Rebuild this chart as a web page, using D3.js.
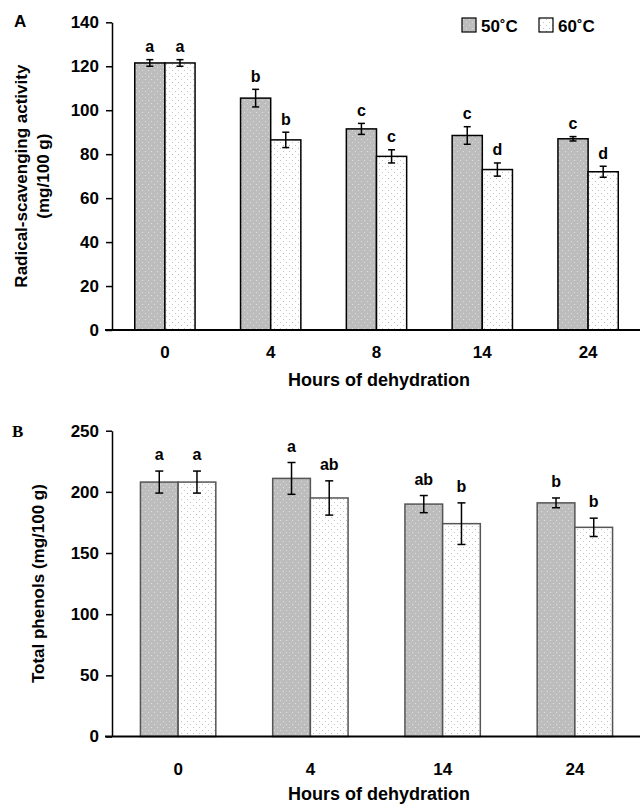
<!DOCTYPE html>
<html>
<head>
<meta charset="utf-8">
<script src="https://cdn.jsdelivr.net/npm/d3@7"></script>
<style>
  body { margin: 0; background: #fff; }
  text { font-family: "Liberation Sans", Arial, sans-serif; font-weight: bold; fill: #000; }
</style>
</head>
<body>
<script>
// panel A data: radical-scavenging activity
var hoursA = ["0", "4", "8", "14", "24"];
var rsa50 = [121.5, 105.5, 91.5, 88.5, 87];
var rsa50Err = [1.5, 4, 2.5, 4, 1];
var rsa60 = [121.5, 86.5, 79, 73, 72];
var rsa60Err = [1.5, 3.5, 3, 3, 2.5];
var rsa50Letters = ["a", "b", "c", "c", "c"];
var rsa60Letters = ["a", "b", "c", "d", "d"];
var ticksA = [0, 20, 40, 60, 80, 100, 120, 140];

// panel B data: total phenols
var hoursB = ["0", "4", "14", "24"];
var phen50 = [208, 211, 190, 191];
var phen50Err = [9, 13, 7, 4];
var phen60 = [208, 195, 174, 171];
var phen60Err = [9, 14, 17, 7.5];
var phen50Letters = ["a", "a", "ab", "b"];
var phen60Letters = ["a", "ab", "b", "b"];
var ticksB = [0, 50, 100, 150, 200, 250];

var series = ["50˚C", "60˚C"];

var svg = d3.select("body").append("svg")
  .attr("width", 640)
  .attr("height", 805);

// dotted fills
var defs = svg.append("defs");
function dotPattern(id, bg, dot) {
  var p = defs.append("pattern")
    .attr("id", id)
    .attr("patternUnits", "userSpaceOnUse")
    .attr("width", 6)
    .attr("height", 6);
  p.append("rect").attr("width", 6).attr("height", 6).attr("fill", bg);
  p.append("rect").attr("x", 1).attr("y", 1).attr("width", 1).attr("height", 1).attr("fill", dot);
  p.append("rect").attr("x", 4).attr("y", 4).attr("width", 1).attr("height", 1).attr("fill", dot);
}
dotPattern("gray-dots", "#bdbdbd", "#dedede");
dotPattern("white-dots", "#ffffff", "#c4c4c4");
var fills = ["url(#gray-dots)", "url(#white-dots)"];

function drawPanel(opt) {
  var g = svg.append("g");

  var x0 = d3.scaleBand()
    .domain(opt.cats)
    .range([112, 641])
    .paddingInner(0.43)
    .paddingOuter(0.215);

  var x1 = d3.scaleBand()
    .domain(series)
    .range([0, x0.bandwidth()]);

  var y = d3.scaleLinear()
    .domain([0, opt.max])
    .range([opt.bottom, opt.top]);

  var rows = opt.cats.map(function(c, i) {
    return [
      { cat: c, s: series[0], v: opt.v50[i], e: opt.e50[i], l: opt.l50[i], k: 0 },
      { cat: c, s: series[1], v: opt.v60[i], e: opt.e60[i], l: opt.l60[i], k: 1 }
    ];
  });
  var flat = [].concat.apply([], rows);

  // bars
  g.selectAll("rect.bar")
    .data(flat)
    .enter().append("rect")
    .attr("class", "bar")
    .attr("x", function(d) { return x0(d.cat) + x1(d.s); })
    .attr("y", function(d) { return y(d.v); })
    .attr("width", x1.bandwidth())
    .attr("height", function(d) { return y(0) - y(d.v); })
    .attr("fill", function(d) { return fills[d.k]; })
    .attr("stroke", opt.barStroke)
    .attr("stroke-width", 1.5);

  // error bars
  var eb = g.selectAll("g.err")
    .data(flat)
    .enter().append("g")
    .attr("class", "err")
    .attr("stroke", "#000")
    .attr("stroke-width", 1.5);
  eb.append("line")
    .attr("x1", function(d) { return x0(d.cat) + x1(d.s) + x1.bandwidth() / 2; })
    .attr("x2", function(d) { return x0(d.cat) + x1(d.s) + x1.bandwidth() / 2; })
    .attr("y1", function(d) { return y(d.v + d.e); })
    .attr("y2", function(d) { return y(d.v - d.e); });
  [1, -1].forEach(function(sign) {
    eb.append("line")
      .attr("x1", function(d) { return x0(d.cat) + x1(d.s) + x1.bandwidth() / 2 - opt.cap; })
      .attr("x2", function(d) { return x0(d.cat) + x1(d.s) + x1.bandwidth() / 2 + opt.cap; })
      .attr("y1", function(d) { return y(d.v + sign * d.e); })
      .attr("y2", function(d) { return y(d.v + sign * d.e); });
  });

  // significance letters
  g.selectAll("text.sig")
    .data(flat)
    .enter().append("text")
    .attr("class", "sig")
    .attr("x", function(d) { return x0(d.cat) + x1(d.s) + x1.bandwidth() / 2; })
    .attr("y", function(d) { return y(d.v + d.e) - opt.letterGap; })
    .attr("text-anchor", "middle")
    .style("font-size", "16px")
    .text(function(d) { return d.l; });

  // y axis
  var yAxis = g.append("g")
    .attr("transform", "translate(112,0)")
    .call(d3.axisLeft(y).tickValues(opt.ticks).tickSize(6).tickPadding(7).tickSizeOuter(0));
  yAxis.select(".domain").attr("stroke", "#000").attr("stroke-width", 1.5);
  yAxis.selectAll(".tick line").attr("stroke", "#000").attr("stroke-width", 1.5);
  yAxis.selectAll(".tick text")
    .style("font-size", "17px")
    .style("font-family", "'Liberation Sans', Arial, sans-serif")
    .style("font-weight", "bold")
    .attr("fill", "#000");

  // x axis
  var xAxis = g.append("g")
    .attr("transform", "translate(0," + y(0) + ")")
    .call(d3.axisBottom(x0).tickSize(0).tickPadding(opt.xPad).tickSizeOuter(0));
  xAxis.select(".domain")
    .attr("d", "M105,0H640")
    .attr("stroke", "#000")
    .attr("stroke-width", 2);
  xAxis.selectAll(".tick text")
    .style("font-size", "17px")
    .style("font-family", "'Liberation Sans', Arial, sans-serif")
    .style("font-weight", "bold")
    .attr("fill", "#000");

  // x title
  g.append("text")
    .attr("x", 379)
    .attr("y", opt.xTitleY)
    .attr("text-anchor", "middle")
    .style("font-size", "18px")
    .text("Hours of dehydration");

  // y title (one or two lines)
  opt.yTitle.forEach(function(line, i) {
    g.append("text")
      .attr("transform", "translate(" + opt.yTitleX[i] + "," + (opt.top + opt.bottom) / 2 + ") rotate(-90)")
      .attr("text-anchor", "middle")
      .style("font-size", "17px")
      .text(line);
  });

  // panel letter
  g.append("text")
    .attr("x", opt.letterX)
    .attr("y", opt.letterY)
    .style("font-size", "17px")
    .style("font-family", opt.letterFont)
    .text(opt.panel);
}

drawPanel({
  cats: hoursA, v50: rsa50, e50: rsa50Err, v60: rsa60, e60: rsa60Err,
  l50: rsa50Letters, l60: rsa60Letters, ticks: ticksA, max: 140,
  top: 22.3, bottom: 330, barStroke: "#000", cap: 3.5, letterGap: 7.5,
  xPad: 16, xTitleY: 386, yTitle: ["Radical-scavenging activity", "(mg/100 g)"],
  yTitleX: [27, 49], panel: "A", letterX: 14, letterY: 27,
  letterFont: "'Liberation Sans', Arial, sans-serif"
});

drawPanel({
  cats: hoursB, v50: phen50, e50: phen50Err, v60: phen60, e60: phen60Err,
  l50: phen50Letters, l60: phen60Letters, ticks: ticksB, max: 250,
  top: 430.7, bottom: 736.5, barStroke: "#555", cap: 4, letterGap: 11,
  xPad: 26, xTitleY: 800, yTitle: ["Total phenols (mg/100 g)"],
  yTitleX: [44], panel: "B", letterX: 12, letterY: 437,
  letterFont: "'Liberation Serif', 'Times New Roman', serif"
});

// legend
var legend = svg.append("g").attr("transform", "translate(462,18)");
series.forEach(function(s, i) {
  var item = legend.append("g").attr("transform", "translate(" + (i * 77) + ",0)");
  item.append("rect")
    .attr("width", 14)
    .attr("height", 14)
    .attr("fill", fills[i])
    .attr("stroke", "#000")
    .attr("stroke-width", 1.2);
  item.append("text")
    .attr("x", 19)
    .attr("y", 13.5)
    .style("font-size", "17px")
    .text(s);
});
</script>
</body>
</html>
